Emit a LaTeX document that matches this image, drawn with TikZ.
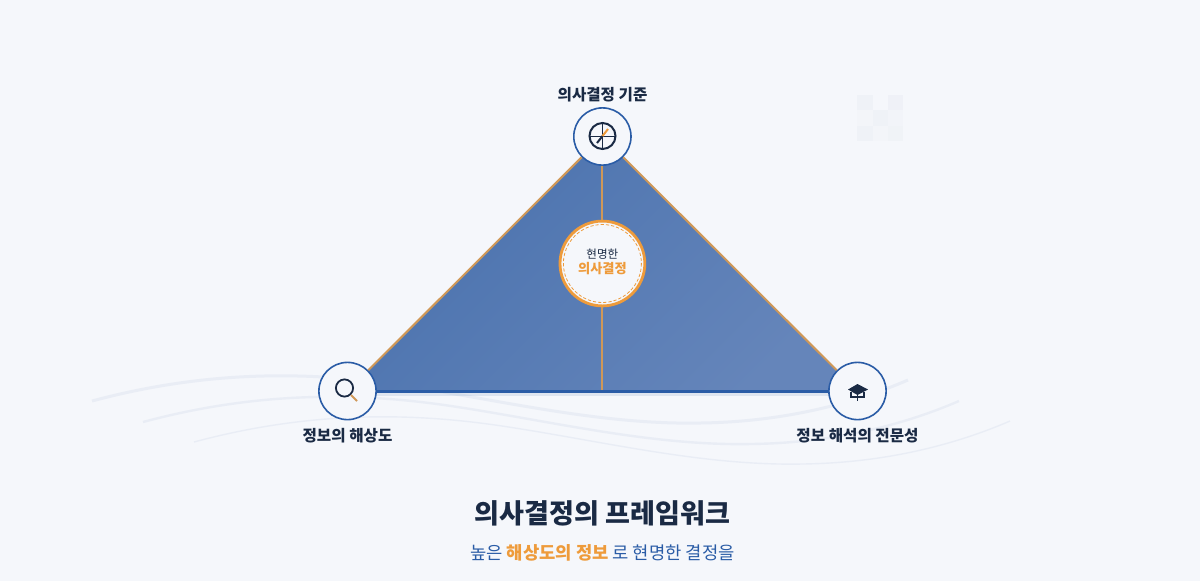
\documentclass[tikz,border=0pt]{standalone}
\usepackage{fontspec}
\setmainfont{Noto Sans CJK KR}
\usetikzlibrary{calc}
\definecolor{pagebg}{HTML}{F5F7FB}
\definecolor{navy}{HTML}{1A2A44}
\definecolor{steel}{HTML}{2A5CA6}
\definecolor{amber}{HTML}{EE9B3B}
\definecolor{tan}{HTML}{CF9858}
\definecolor{wave}{HTML}{5C7FB5}
\definecolor{cell}{HTML}{E6EAF1}
\definecolor{triadark}{HTML}{4A72AE}
\definecolor{trialight}{HTML}{6585BA}
\tikzset{
	corner/.style={circle, draw=steel, line width=0.4mm, fill=pagebg, minimum size=1.43cm, inner sep=0pt},
	cornerlabel/.style={text=navy, font=\fontsize{11.1}{13}\selectfont\bfseries},
	edgeline/.style={line width=0.5mm, color=tan},
	waveline/.style={color=wave, opacity=0.08}
}
\def\wavepath[#1](#2,#3){\draw[waveline, line width=#1] (#2, #3) .. controls (#2+108, #3-29) and (#2+208, #3-31) .. (#2+308, #3-16) .. controls (#2+408, #3-1) and (#2+508, #3+24) .. (#2+608, #3+22) .. controls (#2+688, #3+21) and (#2+758, #3+4) .. (#2+816, #3-21);}

\begin{document}
\begin{tikzpicture}[x=0.025cm, y=-0.025cm]
	%%%%% START %%%%%

	\fill[pagebg] (0, 0) rectangle (1200, 581);

	% mosaic
	\fill[cell, opacity=0.35] (857, 95) rectangle (873, 110);
	\fill[cell, opacity=0.4] (888, 95) rectangle (903, 110);
	\fill[cell, opacity=0.35] (873, 110) rectangle (888, 126);
	\fill[cell, opacity=0.2] (888, 110) rectangle (903, 126);
	\fill[cell, opacity=0.12] (857, 110) rectangle (873, 126);
	\fill[cell, opacity=0.35] (857, 126) rectangle (873, 141);
	\fill[cell, opacity=0.3] (888, 126) rectangle (903, 141);
	\fill[cell, opacity=0.12] (873, 126) rectangle (888, 141);

	% triangle
	\coordinate (apex) at (602.4, 136.5);
	\coordinate (leftend) at (347.5, 391);
	\coordinate (rightend) at (857.5, 391);
	\coordinate (foot) at (602.4, 391);

	\draw[line width=0.9mm, color=wave!20] (347, 394) -- (857, 394);
	\shade[top color=triadark, bottom color=trialight, shading angle=45] (apex) -- (leftend) -- (rightend) -- cycle;

	\wavepath[0.75mm](92,401)
	\wavepath[0.6mm](143,422)
	\wavepath[0.35mm](194,442)

	% nodes
	\node[corner] (topnode) at (apex) {};
	\node[corner] (leftnode) at (leftend) {};
	\node[corner] (rightnode) at (rightend) {};
	\node[circle, draw=amber, line width=0.7mm, fill=pagebg, minimum size=2.12cm, inner sep=0pt, align=center] (midnode) at (602.4, 263.5) {};
	\draw[color=amber, line width=0.2mm, dash pattern=on 0.8mm off 0.5mm] (midnode) circle (39);

	\node[text=navy, font=\fontsize{8.2}{10}\selectfont] (midtop) at (602.4, 254.5) {현명한};
	\node[text=amber, font=\fontsize{9.4}{11}\selectfont\bfseries] (midbottom) at (602.4, 269) {의사결정};

	% connectors
	\draw[edgeline] (topnode) -- (leftnode);
	\draw[edgeline] (topnode) -- (rightnode);
	\draw[edgeline] (topnode) -- (midnode);
	\draw[edgeline] (midnode) -- (foot);
	\draw[line width=0.75mm, color=steel] (leftnode) -- (rightnode);

	% labels
	\node[cornerlabel] (toplabel) at (602.5, 95) {의사결정 기준};
	\node[cornerlabel] (leftlabel) at (347.5, 436) {정보의 해상도};
	\node[cornerlabel] (rightlabel) at (857.5, 436) {정보 해석의 전문성};

	% compass
	\draw[line width=0.5mm, color=navy] (602.5, 136) circle (13);
	\draw[line width=0.2mm, color=navy] (590, 136) -- (615, 136);
	\draw[line width=0.2mm, color=navy] (602.5, 123.5) -- (602.5, 148.5);
	\draw[line width=0.5mm, color=navy] (597, 143) -- (602.5, 136);
	\draw[line width=0.5mm, color=amber] (602.5, 136) -- (608, 129);

	% magnifier
	\draw[line width=0.45mm, color=navy] (344.5, 388) circle (8.6);
	\draw[line width=0.5mm, color=tan] (351, 395) -- (357, 401);

	% cap
	\fill[navy] (848, 389.5) -- (857.5, 384) -- (868, 389.5) -- (857.5, 395) -- cycle;
	\draw[line width=0.3mm, color=navy] (851, 392) -- (851, 397) -- (864, 397) -- (864, 392);
	\draw[line width=0.25mm, color=navy] (857.5, 392) -- (857.5, 401);

	% title
	\node[text=navy, font=\fontsize{19.25}{23}\selectfont\bfseries] (titlenode) at (602.5, 513) {의사결정의 프레임워크};
	\node[text=steel, font=\fontsize{12.6}{15}\selectfont] (subnode) at (602.5, 553) {높은 {\color{amber}\bfseries 해상도의 정보} 로 현명한 결정을};

	%%%%% END %%%%%
\end{tikzpicture}
\end{document}
